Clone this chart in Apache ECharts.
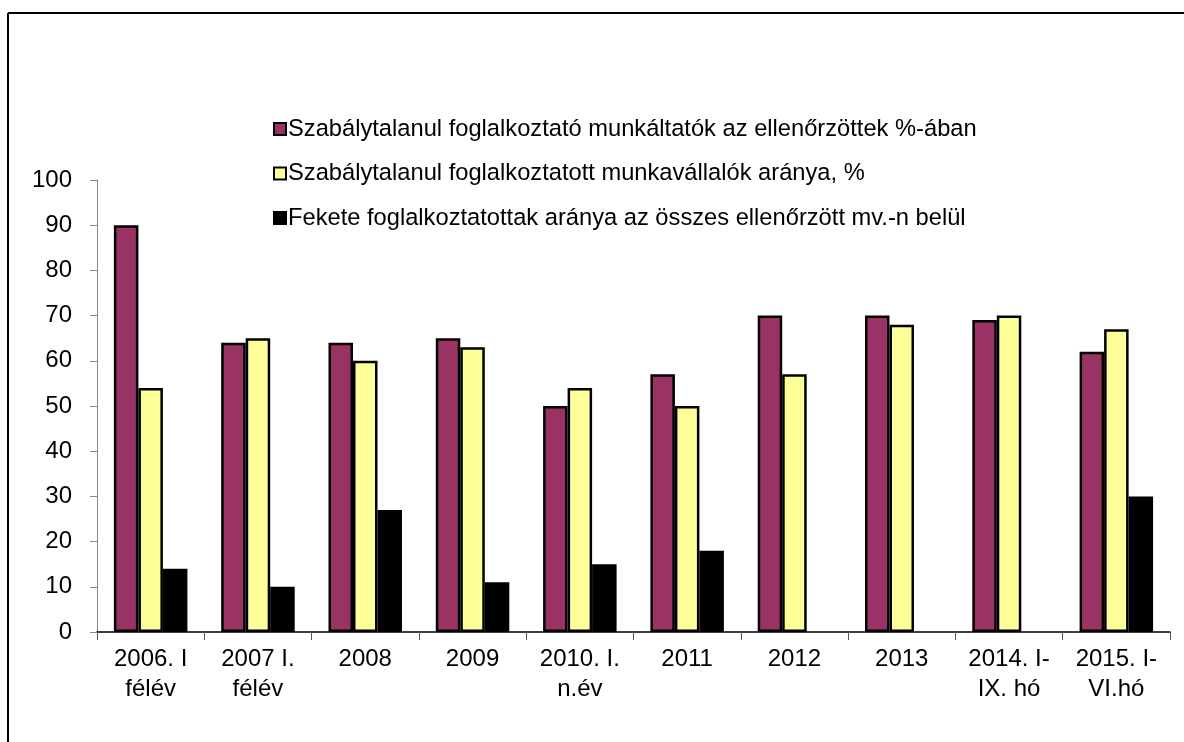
<!DOCTYPE html>
<html>
<head>
<meta charset="utf-8">
<script src="https://cdn.jsdelivr.net/npm/echarts@6/dist/echarts.min.js"></script>
<style>html,body{margin:0;padding:0;background:#fff;}#c{width:1184px;height:742px;}</style>
</head>
<body>
<div id="c"></div>
<script>
const categories = ["2006. I\nfélév", "2007 I.\nfélév", "2008", "2009", "2010. I.\nn.év", "2011", "2012", "2013", "2014. I-\nIX. hó", "2015. I-\nVI.hó"];
const seriesNames = [
  "Szabálytalanul foglalkoztató munkáltatók az ellenőrzöttek %-ában",
  "Szabálytalanul foglalkoztatott munkavállalók aránya, %",
  "Fekete foglalkoztatottak aránya az összes ellenőrzött mv.-n belül"
];
const employers = [90, 64, 64, 65, 50, 57, 70, 70, 69, 62];
const employees = [54, 65, 60, 63, 54, 50, 57, 68, 70, 67];
const blackWork = [14, 10, 27, 11, 15, 18, null, null, null, 30];
const yTicks = [0, 10, 20, 30, 40, 50, 60, 70, 80, 90, 100];
const colors = ["#993366", "#FFFF99", "#000000"];

const chart = echarts.init(document.getElementById('c'), null, {renderer: 'canvas'});
const font = 'Arial, "Liberation Sans", sans-serif';
const mk = (i, data) => ({
  name: seriesNames[i], type: 'bar', data: data,
  barGap: '0%', barCategoryGap: '31.5%',
  itemStyle: {color: colors[i], borderColor: '#000', borderWidth: 2.5},
  animation: false
});
chart.setOption({
  animation: false,
  backgroundColor: '#fff',
  graphic: [
    {type: 'line', shape: {x1: 8, y1: 13, x2: 1184, y2: 13}, style: {stroke: '#000', lineWidth: 2}},
    {type: 'line', shape: {x1: 8, y1: 13, x2: 8, y2: 742}, style: {stroke: '#000', lineWidth: 2}}
  ],
  legend: {
    orient: 'vertical', left: 268, top: 112, itemGap: 20.5,
    itemWidth: 12, itemHeight: 12, icon: 'rect',
    textStyle: {fontSize: 23.7, fontFamily: font, color: '#000', padding: [0, 0, 0, -3], lineHeight: 24},
    data: seriesNames
  },
  grid: {left: 97, right: 14, top: 180, bottom: 110, containLabel: false},
  xAxis: {
    type: 'category', data: categories,
    axisLine: {lineStyle: {color: '#000', width: 1.5}},
    axisTick: {show: true, length: 8, alignWithLabel: false, lineStyle: {color: '#555'}},
    axisLabel: {fontSize: 24, fontFamily: font, color: '#000', lineHeight: 30, margin: 12, interval: 0}
  },
  yAxis: {
    type: 'value', min: 0, max: 100, interval: 10,
    splitLine: {show: false},
    axisLine: {show: true, lineStyle: {color: '#888'}},
    axisTick: {show: true, length: 7, lineStyle: {color: '#888'}},
    axisLabel: {fontSize: 24, fontFamily: font, color: '#000', margin: 25,
      formatter: v => yTicks.includes(v) ? String(v) : ''}
  },
  series: [mk(0, employers), mk(1, employees), mk(2, blackWork)]
});
</script>
</body>
</html>
